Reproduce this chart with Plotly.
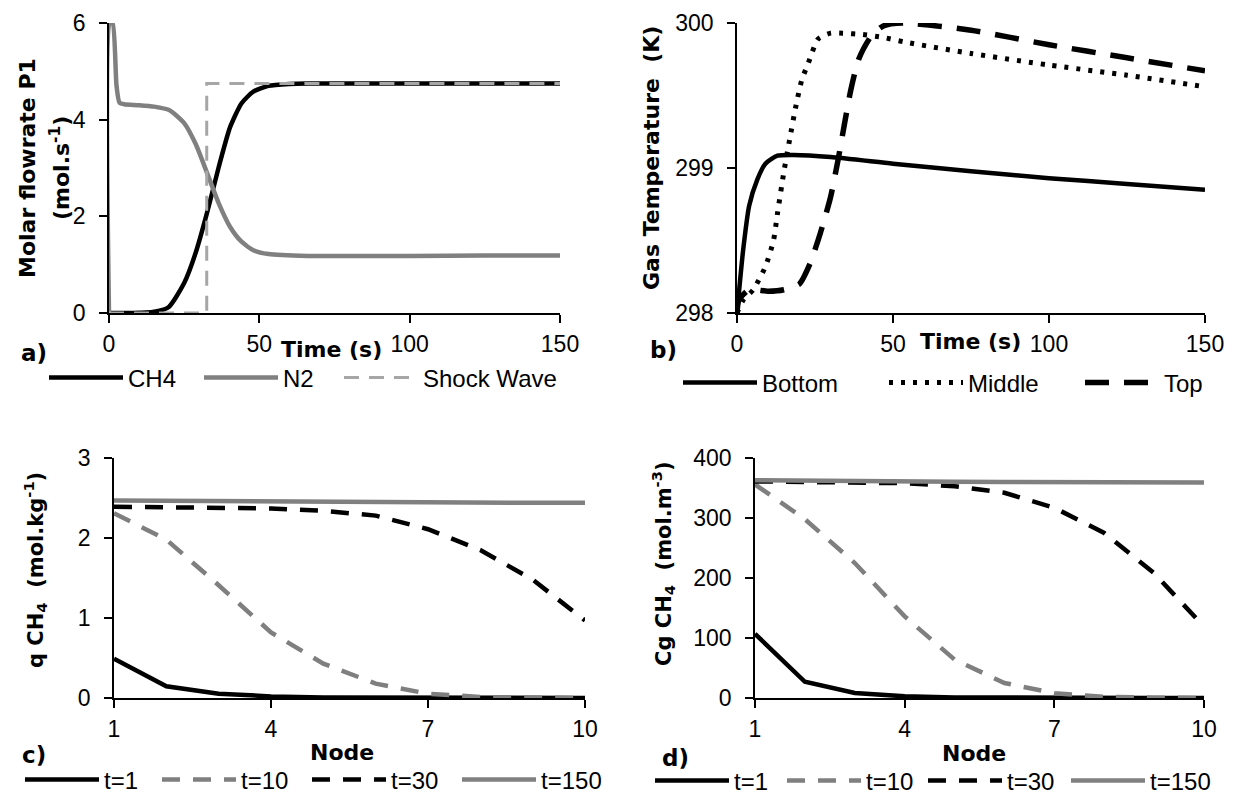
import plotly.graph_objects as go

# ---------- data ----------
# panel a: molar flowrate P1
t_ch4 = [0, 5, 10, 14.6, 19.8, 25, 28.8, 32.6, 36.5, 40.3, 44.1, 48, 53, 60, 66, 80, 100, 125, 150]
ch4 = [0, 0, 0.005, 0.02, 0.12, 0.62, 1.24, 2.07, 3.02, 3.85, 4.34, 4.58, 4.70, 4.74, 4.75, 4.75, 4.75, 4.75, 4.75]
t_n2 = [0, 0.3, 1.2, 2.5, 3.5, 5, 10, 15, 20, 25, 28.8, 32.6, 36.5, 40.3, 44, 48, 53, 66, 80, 100, 125, 150]
n2 = [0, 6.0, 6.0, 4.7, 4.35, 4.32, 4.30, 4.27, 4.2, 3.93, 3.5, 2.9, 2.27, 1.78, 1.48, 1.3, 1.22, 1.18, 1.18, 1.18, 1.19, 1.19]
t_shock = [0, 32.5, 32.5, 150]
shock = [0, 0, 4.75, 4.75]

# panel b: gas temperature
t_bot = [0, 2, 3.9, 6.5, 9.1, 13, 18.2, 30, 50, 75, 100, 125, 150]
bottom = [298.0, 298.44, 298.74, 298.92, 299.03, 299.085, 299.09, 299.076, 299.03, 298.977, 298.93, 298.89, 298.85]
t_mid = [0, 2, 5.2, 9.1, 11.7, 13, 15, 16.9, 18.9, 20.8, 22.8, 26, 30, 33.9, 40.4, 46.9, 53.4, 75, 100, 125, 150]
middle = [298.0, 298.09, 298.16, 298.32, 298.5, 298.69, 298.97, 299.2, 299.43, 299.61, 299.72, 299.89, 299.93,
          299.93, 299.92, 299.9, 299.87, 299.79, 299.71, 299.64, 299.56]
t_top = [0, 0.6, 3.9, 10, 15, 20, 23.4, 26.7, 30, 32.6, 34.5, 36.5, 39, 43, 46.9, 53.4, 75, 100, 125, 150]
top = [298.0, 298.09, 298.16, 298.15, 298.16, 298.2, 298.34, 298.55, 298.8, 299.08, 299.31, 299.54, 299.75,
       299.91, 299.98, 300.0, 299.95, 299.85, 299.76, 299.67]

# panels c, d: profiles along the bed
nodes = [1, 2, 3, 4, 5, 6, 7, 8, 9, 10]
q_t1 = [0.49, 0.146, 0.054, 0.02, 0.006, 0.002, 0.001, 0, 0, 0]
q_t10 = [2.31, 1.98, 1.41, 0.82, 0.43, 0.18, 0.054, 0.013, 0.003, 0]
q_t30 = [2.39, 2.38, 2.38, 2.37, 2.34, 2.28, 2.11, 1.85, 1.48, 0.97]
q_t150 = [2.47, 2.465, 2.46, 2.455, 2.45, 2.45, 2.445, 2.445, 2.44, 2.44]
cg_t1 = [107, 27, 8.3, 2.8, 1, 0.3, 0.1, 0, 0, 0]
cg_t10 = [356, 298, 225, 136, 64, 25, 8, 2, 0.5, 0]
cg_t30 = [361, 360.5, 359, 358, 353, 342, 317, 275, 208, 119]
cg_t150 = [363, 362, 361.5, 361, 360.5, 360, 360, 359.5, 359, 359]

# tick values
ticks_a = [0, 2, 4, 6]
ticks_b = [298, 299, 300]
ticks_c = [0, 1, 2, 3]
ticks_d = [0, 100, 200, 300, 400]
ticks_time = [0, 50, 100, 150]
ticks_node = [1, 4, 7, 10]

# ---------- styling ----------
W, H = 1233, 796
BLACK = "#000000"
GRAY = "#808080"
LGRAY = "#a6a6a6"
SANS = "Liberation Sans, Arial, sans-serif"
TICKFONT = dict(family=SANS, size=23, color="black")
LEGFONT = dict(family=SANS, size=24, color="black")
BOLD = "DejaVu Sans, Verdana, sans-serif"


def px_x(x0, x1):
    return [x0 / W, x1 / W]


def px_y(ytop, ybot):
    return [(H - ybot) / H, (H - ytop) / H]


fig = go.Figure()

# legend slot positions (line start x, centre y) in pixels -- layout only
leg_slots = [
    (56, 378), (211, 378), (351, 378),
    (690, 383), (896, 383), (1092, 383),
    (32, 780), (169, 780), (319, 780), (469, 780),
    (662, 781), (794, 781), (935, 781), (1078, 781),
]
leg_ids = ["legend"] + ["legend%d" % i for i in range(2, len(leg_slots) + 1)]
_slot = iter(leg_ids)


def add(x, y, name, color, width, dash, xa, ya, smooth=True):
    line = dict(color=color, width=width, dash=dash)
    if smooth:
        line.update(shape="spline", smoothing=0.6)
    fig.add_trace(go.Scatter(x=x, y=y, name=name, mode="lines", line=line,
                             xaxis=xa, yaxis=ya, legend=next(_slot), cliponaxis=False, hoverinfo="skip"))


add(t_ch4, ch4, "CH4", BLACK, 4.5, "solid", "x", "y")
add(t_n2, n2, "N2", GRAY, 4.5, "solid", "x", "y")
add(t_shock, shock, "Shock Wave", LGRAY, 3, "15px,10px", "x", "y", smooth=False)

add(t_bot, bottom, "Bottom", BLACK, 4.5, "solid", "x2", "y2")
add(t_mid, middle, "Middle", BLACK, 5, "4px,8px", "x2", "y2")
add(t_top, top, "Top", BLACK, 5.5, "24px,15px", "x2", "y2")

add(nodes, q_t1, "t=1", BLACK, 4.5, "solid", "x3", "y3", smooth=False)
add(nodes, q_t10, "t=10", "#7f7f7f", 4.5, "18px,13px", "x3", "y3", smooth=False)
add(nodes, q_t30, "t=30", BLACK, 4.5, "18px,13px", "x3", "y3", smooth=False)
add(nodes, q_t150, "t=150", GRAY, 4.5, "solid", "x3", "y3", smooth=False)

add(nodes, cg_t1, "t=1", BLACK, 4.5, "solid", "x4", "y4", smooth=False)
add(nodes, cg_t10, "t=10", "#7f7f7f", 4.5, "18px,13px", "x4", "y4", smooth=False)
add(nodes, cg_t30, "t=30", BLACK, 4.5, "18px,13px", "x4", "y4", smooth=False)
add(nodes, cg_t150, "t=150", GRAY, 4.5, "solid", "x4", "y4", smooth=False)

axis_common = dict(showgrid=False, zeroline=False, showline=True, linecolor="black", linewidth=1.5,
                   ticks="outside", ticklen=8, tickwidth=1.5, tickcolor="black", tickfont=TICKFONT,
                   layer="below traces")
xax = dict(ticklabelstandoff=2, **axis_common)
yax = dict(ticklabelstandoff=9, **axis_common)

dom_a = px_x(109, 560); dom_b = px_x(737, 1205)
dom_c = px_x(114, 585); dom_d = px_x(755, 1204)
ytop = px_y(23, 313); ybot = px_y(458, 698)

fig.update_layout(
    width=W, height=H, margin=dict(l=0, r=0, t=0, b=0, autoexpand=False),
    paper_bgcolor="white", plot_bgcolor="white",
    xaxis=dict(domain=dom_a, range=[0, 150], tickvals=ticks_time, anchor="y", **xax),
    yaxis=dict(domain=ytop, range=[0, 6], tickvals=ticks_a, anchor="x", **yax),
    xaxis2=dict(domain=dom_b, range=[0, 150], tickvals=ticks_time, anchor="y2", **xax),
    yaxis2=dict(domain=ytop, range=[298, 300], tickvals=ticks_b, anchor="x2", **yax),
    xaxis3=dict(domain=dom_c, range=[1, 10], tickvals=ticks_node, anchor="y3", **xax),
    yaxis3=dict(domain=ybot, range=[0, 3], tickvals=ticks_c, anchor="x3", **yax),
    xaxis4=dict(domain=dom_d, range=[1, 10], tickvals=ticks_node, anchor="y4", **xax),
    yaxis4=dict(domain=ybot, range=[0, 400], tickvals=ticks_d, anchor="x4", **yax),
    showlegend=True,
)

for lid, (lx, ly) in zip(leg_ids, leg_slots):
    fig.update_layout({lid: dict(orientation="h", xanchor="left", yanchor="middle",
                                 x=(lx - 12) / W, y=(H - ly) / H, font=LEGFONT,
                                 bgcolor="rgba(0,0,0,0)", itemwidth=74,
                                 itemclick=False, itemdoubleclick=False)})

annots = [
    # y-axis titles
    dict(text="Molar flowrate P1", x=27, y=168, angle=-90, size=22),
    dict(text="(mol.s<sup>-1</sup>)", x=60, y=168, angle=-90, size=22),
    dict(text="Gas Temperature  (K)", x=651, y=158, angle=-90, size=22),
    dict(text="q CH<sub>4</sub>  (mol.kg<sup>-1</sup>)", x=35, y=570, angle=-90, size=21),
    dict(text="Cg CH<sub>4</sub>  (mol.m<sup>-3</sup>)", x=663, y=564, angle=-90, size=21),
    # x-axis titles
    dict(text="Time (s)", x=331, y=349, angle=0, size=22),
    dict(text="Time (s)", x=970, y=341, angle=0, size=22),
    dict(text="Node", x=342, y=752, angle=0, size=22),
    dict(text="Node", x=974, y=753, angle=0, size=22),
    # panel letters
    dict(text="a)", x=34, y=353, angle=0, size=23),
    dict(text="b)", x=663, y=350, angle=0, size=23),
    dict(text="c)", x=34, y=755, angle=0, size=23),
    dict(text="d)", x=675, y=758, angle=0, size=23),
]
for a in annots:
    fig.add_annotation(text="<b>" + a["text"] + "</b>", xref="paper", yref="paper",
                       x=a["x"] / W, y=(H - a["y"]) / H, xanchor="center", yanchor="middle",
                       textangle=a["angle"], showarrow=False,
                       font=dict(family=BOLD, size=a["size"], color="black"))

fig.write_html("out.html")
